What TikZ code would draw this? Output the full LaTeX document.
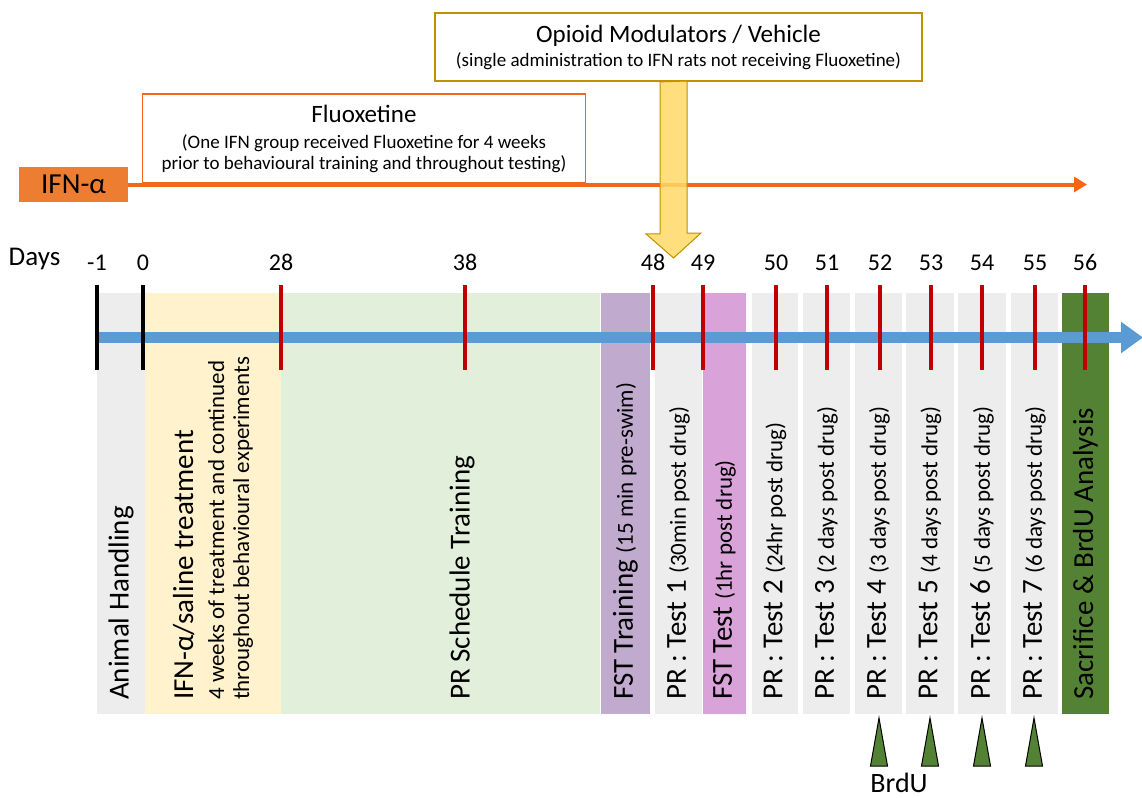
\documentclass[tikz,border=0pt]{standalone}
\usepackage{fontspec}
\setmainfont{Carlito}
\usetikzlibrary{arrows.meta,positioning}

\definecolor{ifnorange}{HTML}{ED7D31}
\definecolor{fluoline}{HTML}{F5661A}
\definecolor{opioidgold}{HTML}{BF9000}
\definecolor{opioidfill}{HTML}{FFD966}
\definecolor{timeblue}{HTML}{5B9BD5}
\definecolor{tickred}{HTML}{C00000}
\definecolor{handgray}{HTML}{EDEDED}
\definecolor{ifncream}{HTML}{FFF2CC}
\definecolor{prgreen}{HTML}{E2EFDA}
\definecolor{fstpurple}{HTML}{C0ABCE}
\definecolor{fstpink}{HTML}{D9A3D9}
\definecolor{sacgreen}{HTML}{548235}

\newcommand{\bigsz}{\fontsize{29}{33}\selectfont}
\newcommand{\smallsz}{\fontsize{23}{25}\selectfont}

\begin{document}
\begin{tikzpicture}[x=1pt,y=-1pt,
  phase/.style={rotate=90,anchor=west,inner sep=0pt,font=\bigsz},
  infobox/.style={draw,fill=white,align=center,inner sep=0pt},
  daynum/.style={anchor=base,font=\fontsize{24}{28}\selectfont},
  daytick/.style={line width=4pt,tickred},
  brdu/.style={draw=black,fill=sacgreen,line width=1pt}]
\useasboundingbox (0,0) rectangle (1142,797);

\foreach \a/\b/\c in {97/145/handgray,145/281/ifncream,281/600/prgreen,601/650/fstpurple,655/702/handgray,703/746/fstpink,752/798/handgray,803/850/handgray,855/902/handgray,906/954/handgray,958/1006/handgray,1011/1058/handgray,1062/1109/sacgreen}
  \fill[\c] (\a,293) rectangle (\b,714);

\node[phase] (hand) at (121,700) {Animal Handling};
\node[phase,align=left,font=\smallsz] (ifn) at (213,700) {{\bigsz IFN-α/saline treatment}\\[6pt]4 weeks of treatment and continued\\throughout behavioural experiments};
\node[phase] (prs) at (462,700) {PR Schedule Training};
\node[phase] (fsttrain) at (625.5,700) {FST Training {\smallsz(15 min pre-swim)}};
\node[phase] (fsttest) at (724.5,700) {FST Test {\smallsz(1hr post drug)}};
\foreach \n/\x/\t in {1/678.5/30min post drug,2/775/24hr post drug,3/826.5/2 days post drug,4/878.5/3 days post drug,5/930/4 days post drug,6/982/5 days post drug,7/1034.5/6 days post drug}
  \node[phase] (test\n) at (\x,700) {PR : Test \n\ {\smallsz(\t)}};
\node[phase] (sac) at (1085.5,700) {Sacrifice \& BrdU Analysis};

\coordinate (tstart) at (97,337.5);
\coordinate (tend) at (1143,337.5);
\draw[timeblue,line width=11pt,-{Triangle[length=22pt,width=30pt]}] (tstart) -- (tend);

\node[anchor=base,font=\fontsize{27}{30}\selectfont] (days) at (34.5,265) {Days};
\foreach \d/\x in {-1/97,0/143}{
  \node[daynum] (d\d) at (\x,270) {\d};
  \draw[line width=4pt] (\x,285) -- (\x,370);
}
\foreach \d/\x in {28/281,38/465,48/653,49/703,50/776,51/827,52/880,53/931,54/982,55/1035,56/1085}{
  \node[daynum] (d\d) at (\x,270) {\d};
  \draw[daytick] (\x,285) -- (\x,370);
}

\node[infobox,draw=opioidgold,line width=1.8pt,minimum width=487,minimum height=68,font=\fontsize{19}{24}\selectfont] (opioid) at (678.5,47)
  {{\fontsize{25}{28}\selectfont Opioid Modulators / Vehicle}\\(single administration to IFN rats not receiving Fluoxetine)};
\node[infobox,draw=fluoline,line width=1.3pt,minimum width=443,minimum height=89,font=\fontsize{19}{21}\selectfont] (fluox) at (364,138.5)
  {{\fontsize{25}{28}\selectfont Fluoxetine}\\[5pt](One IFN group received Fluoxetine for 4 weeks\\prior to behavioural training and throughout testing)};
\node[fill=ifnorange,minimum width=109,minimum height=35,inner sep=0pt,font=\bigsz] (ifnbox) at (73.5,184.5) {IFN-α};
\draw[fluoline,line width=4pt,-{Triangle[length=13pt,width=15pt]}] (ifnbox.east) -- (1087,184.5);

\coordinate (drop) at (673.5,258);
\draw[opioidgold,fill=opioidfill,fill opacity=.85,line width=1pt] (opioid.south -| drop) ++(-13.5,0) -- ++(0,152) -- ++(-14,0) -- (drop) -- ++(27.5,-25) -- ++(-14,0) -- ++(0,-152) -- cycle;

\foreach \x in {879,930,982,1034}
  \draw[brdu] (\x-8.5,766) -- (\x,718) -- (\x+8.5,766) -- cycle;
\node[anchor=base,inner sep=0pt,font=\fontsize{28}{30}\selectfont] (brdu) at (899,792) {BrdU};
\end{tikzpicture}
\end{document}
